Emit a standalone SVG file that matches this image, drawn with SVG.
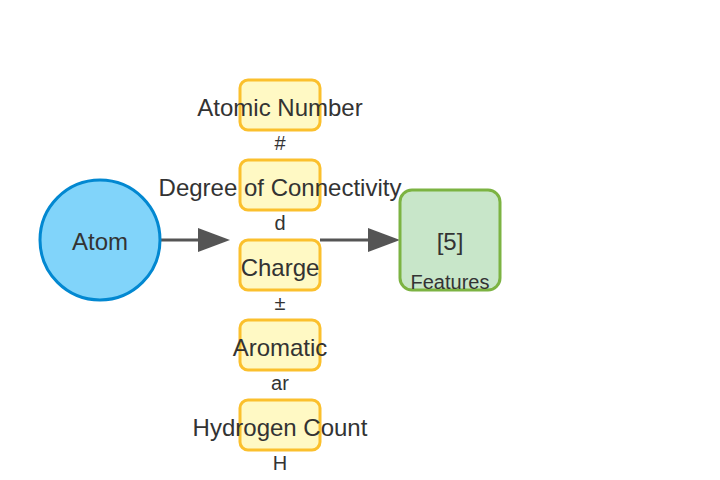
<svg xmlns="http://www.w3.org/2000/svg" width="720" height="480" viewBox="0 0 720 480">
<style>
text{font-family:"Liberation Sans",Arial,sans-serif;fill:#333;text-anchor:middle}
.lbl{font-size:24px}
.sub{font-size:20px}
.feat{fill:#fff9c4;stroke:#fbc02d;stroke-width:3}
.edge{stroke:#555;stroke-width:3;fill:none}
</style>
<defs>
<marker id="ah" markerUnits="userSpaceOnUse" markerWidth="32" markerHeight="24" refX="7" refY="12" orient="auto">
<path d="M0,0 L32,12 L0,24 z" fill="#555"/>
</marker>
</defs>
<rect width="720" height="480" fill="#fff"/>
<g id="connectors">
<line class="edge" x1="161" y1="240" x2="205" y2="240" marker-end="url(#ah)"/>
<line class="edge" x1="320" y1="240" x2="375" y2="240" marker-end="url(#ah)"/>
</g>
<g id="atom">
<circle cx="100" cy="240" r="60" fill="#81d4fa" stroke="#0288d1" stroke-width="3"/>
<text class="lbl" x="100" y="250">Atom</text>
</g>
<g id="atomic-number">
<rect class="feat" x="240" y="80" width="80" height="50" rx="8"/>
<text class="lbl" x="280" y="116">Atomic Number</text>
<text class="sub" x="280" y="150">#</text>
</g>
<g id="degree">
<rect class="feat" x="240" y="160" width="80" height="50" rx="8"/>
<text class="lbl" x="280" y="196">Degree of Connectivity</text>
<text class="sub" x="280" y="230">d</text>
</g>
<g id="charge">
<rect class="feat" x="240" y="240" width="80" height="50" rx="8"/>
<text class="lbl" x="280" y="276">Charge</text>
<text class="sub" x="280" y="310">±</text>
</g>
<g id="aromatic">
<rect class="feat" x="240" y="320" width="80" height="50" rx="8"/>
<text class="lbl" x="280" y="356">Aromatic</text>
<text class="sub" x="280" y="390">ar</text>
</g>
<g id="hydrogen">
<rect class="feat" x="240" y="400" width="80" height="50" rx="8"/>
<text class="lbl" x="280" y="436">Hydrogen Count</text>
<text class="sub" x="280" y="470">H</text>
</g>
<g id="features">
<rect x="400" y="190" width="100" height="100" rx="12" fill="#c8e6c9" stroke="#7cb342" stroke-width="3"/>
<text class="lbl" x="450" y="250">[5]</text>
<text class="sub" x="450" y="289">Features</text>
</g>
</svg>
